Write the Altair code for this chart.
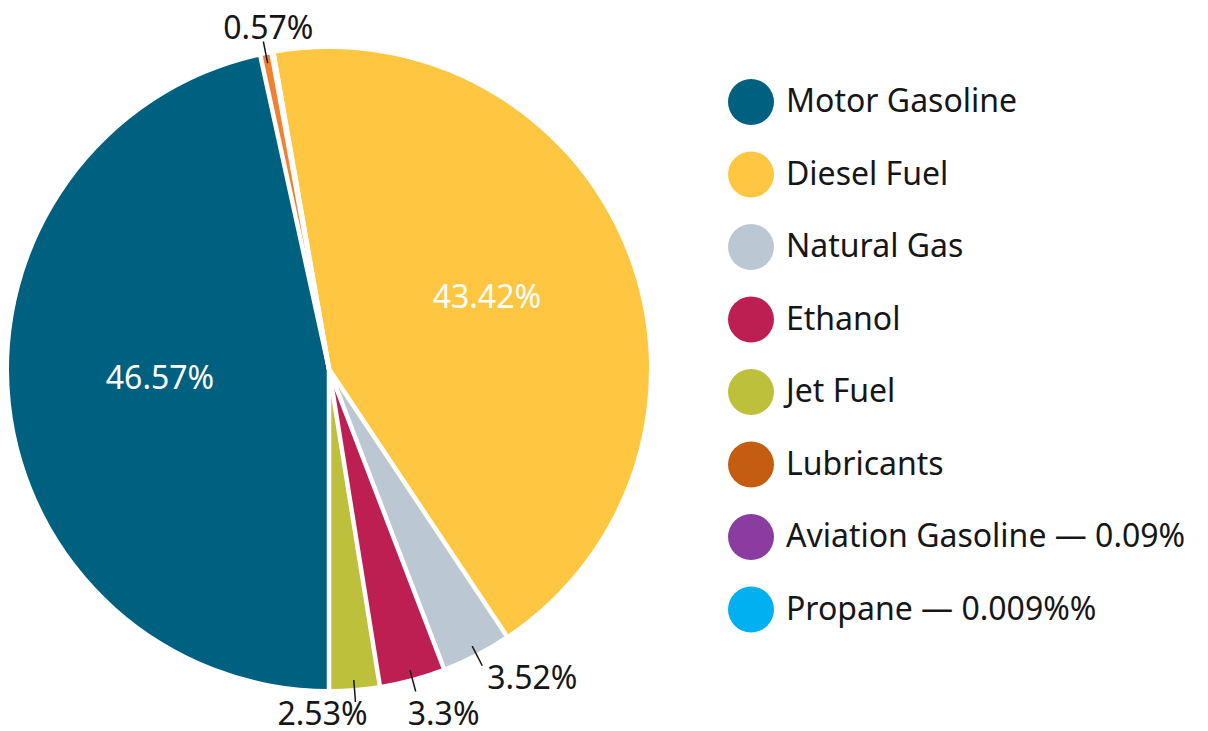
import math
import altair as alt
import pandas as pd

# ---- data (pie order, clockwise) ----
fuels = ["Diesel Fuel", "Natural Gas", "Ethanol", "Jet Fuel", "Motor Gasoline",
         "Lubricants", "Aviation Gasoline — 0.09%", "Propane — 0.009%%"]
shares = [43.42, 3.52, 3.3, 2.53, 46.57, 0.57, 0.09, 0.009]
labels = ["43.42%", "3.52%", "3.3%", "2.53%", "46.57%", "0.57%", "0.09%", "0.009%"]

legend_order = ["Motor Gasoline", "Diesel Fuel", "Natural Gas", "Ethanol", "Jet Fuel",
                "Lubricants", "Aviation Gasoline — 0.09%", "Propane — 0.009%%"]
legend_colors = ["#00607f", "#fec641", "#bbc8d3", "#bd1f53", "#bdc03a",
                 "#c45c12", "#8b3ca0", "#00b0f0"]
lubricant_slice_color = "#f08130"

FONT = "Noto Sans"
TXT = "#161616"

df = pd.DataFrame({"fuel": fuels, "share": shares, "label": labels,
                   "idx": list(range(len(fuels)))})

# Motor Gasoline starts exactly at 6 o'clock
total = sum(shares)
mg_start = sum(shares[:fuels.index("Motor Gasoline")])
offset = math.pi - 2 * math.pi * mg_start / total + 2 * math.pi

base = (
    alt.Chart(df)
    .transform_joinaggregate(total="sum(share)")
    .transform_window(cum="sum(share)", sort=[alt.SortField("idx")])
    .transform_calculate(
        a0=f"{offset} + 2*PI*(datum.cum - datum.share)/datum.total",
        a1=f"{offset} + 2*PI*datum.cum/datum.total",
    )
    .transform_calculate(mid="(datum.a0 + datum.a1)/2")
)

color = alt.condition(
    alt.datum.fuel == "Lubricants",
    alt.value(lubricant_slice_color),
    alt.Color(
        "fuel:N",
        scale=alt.Scale(domain=legend_order, range=legend_colors),
        title=None,
        legend=alt.Legend(
            orient="none", legendX=720, legendY=71, padding=0,
            symbolType="circle", symbolSize=2116, symbolStrokeWidth=0,
            symbolOpacity=1, rowPadding=26.5, labelOffset=12,
            labelFontSize=32, labelFont=FONT, labelColor=TXT, labelLimit=600,
        ),
    ),
)

arcs = base.mark_arc(radius=320).encode(
    theta=alt.Theta("a0:Q", scale=None, stack=False),
    theta2="a1:Q",
    color=color,
    order="idx:Q",
)

# white separators between slices (radial lines at each slice start)
separators = base.mark_arc(
    radius=322, stroke="white", strokeWidth=4.5, strokeJoin="bevel", fillOpacity=0
).encode(theta=alt.Theta("a0:Q", scale=None, stack=False), theta2="a0:Q")

leaders = (
    base.transform_filter(
        alt.FieldOneOfPredicate(field="fuel",
                                oneOf=["Natural Gas", "Ethanol", "Jet Fuel", "Lubricants"])
    )
    .mark_arc(radius=312, radius2=334, stroke=TXT, strokeWidth=1.5, fillOpacity=0)
    .encode(theta=alt.Theta("mid:Q", scale=None, stack=False), theta2="mid:Q")
)

inside = (
    base.transform_filter(
        alt.FieldOneOfPredicate(field="fuel", oneOf=["Motor Gasoline", "Diesel Fuel"])
    )
    .mark_text(radius=170, dy=-8, color="white", fontSize=32, font=FONT)
    .encode(theta=alt.Theta("mid:Q", scale=None, stack=False), text="label:N")
)


def outside(name, align, dx, dy):
    return (
        base.transform_filter(alt.datum.fuel == name)
        .mark_text(radius=334, align=align, baseline="middle", dx=dx, dy=dy,
                   color=TXT, fontSize=32, font=FONT)
        .encode(theta=alt.Theta("mid:Q", scale=None, stack=False), text="label:N")
    )


chart = (
    alt.layer(
        arcs,
        separators,
        leaders,
        inside,
        outside("Natural Gas", "left", 5, 13),
        outside("Ethanol", "left", -8, 23),
        outside("Jet Fuel", "center", -33, 13),
        outside("Lubricants", "center", 5, -13),
    )
    .properties(width=642, height=722, padding=0)
    .configure_view(stroke=None)
)

chart.save("out.html", embed_options={"renderer": "svg", "actions": False})
